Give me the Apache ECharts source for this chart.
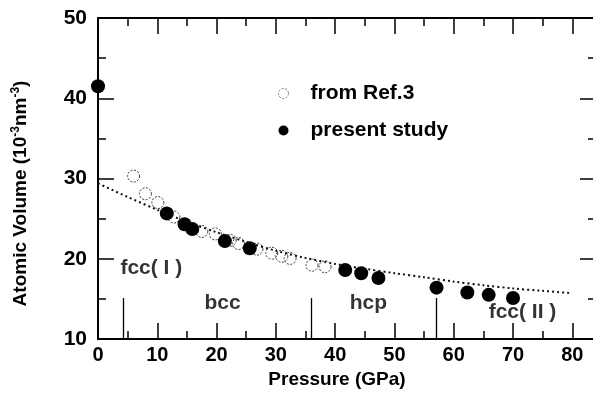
<!DOCTYPE html>
<html>
<head>
<meta charset="utf-8">
<style>html,body{margin:0;padding:0;background:#fff}#c{width:593px;height:400px}</style>
<script src="https://cdn.jsdelivr.net/npm/echarts@6/dist/echarts.min.js"></script>
</head>
<body>
<div id="c"></div>
<script>
// ---- data ----
const refP = [6.0, 8.0, 10.1, 12.8, 17.5, 19.8, 22.3, 23.7, 26.8, 29.3, 31.0, 32.4, 36.1, 38.3];
const refV = [30.3, 28.1, 27.0, 25.2, 23.4, 23.1, 22.3, 21.9, 21.2, 20.7, 20.3, 20.05, 19.2, 19.0];
const presentP = [0, 11.6, 14.6, 15.9, 21.4, 25.6, 41.7, 44.4, 47.3, 57.1, 62.3, 65.9, 70.0];
const presentV = [41.5, 25.65, 24.3, 23.7, 22.2, 21.3, 18.6, 18.2, 17.6, 16.4, 15.8, 15.5, 15.1];
const curveP = [0, 5, 10, 15, 20, 25, 30, 35, 40, 45, 50, 55, 60, 65, 70, 75, 80];
const curveV = [29.4, 27.7, 26.1, 24.6, 23.3, 22.1, 21.0, 20.1, 19.35, 18.75, 18.2, 17.7, 17.15, 16.7, 16.3, 16.0, 15.7];
const boundaryP = [4.3, 35.9, 57.1];
const boundaryTop = [15.1, 15.1, 15.1];
const phaseNames = ['fcc( I )', 'bcc', 'hcp', 'fcc( II )'];
const phaseP = [9.0, 21.0, 45.6, 71.6];
const phaseV = [18.8, 14.5, 14.4, 13.4];
const xTickLabels = [0, 10, 20, 30, 40, 50, 60, 70, 80];

const FONT = "'Liberation Sans', Arial, sans-serif";

function xAx(pos, major, withLabels) {
  const ax = {
    type: 'value', min: 0, max: 84, interval: major ? 10 : 5, position: pos,
    axisLine: {show: major, onZero: false, lineStyle: {color: '#000', width: 2}},
    axisTick: {show: true, inside: true, length: major ? 16 : 8, lineStyle: {color: '#000', width: 1.5}},
    axisLabel: {show: false},
    splitLine: {show: false}
  };
  if (withLabels) {
    ax.axisLabel = {show: true, margin: 6, color: '#000', fontSize: 20, fontWeight: 'bold', fontFamily: FONT,
      formatter: v => (xTickLabels.indexOf(v) >= 0 ? String(v) : '')};
    ax.name = 'Pressure (GPa)';
    ax.nameLocation = 'middle';
    ax.nameGap = 29;
    ax.nameTextStyle = {color: '#000', fontSize: 19, fontWeight: 'bold', fontFamily: FONT, padding: [0, 20, 0, 0]};
  }
  return ax;
}
function yAx(pos, withLabels) {
  const ax = {
    type: 'value', min: 10, max: 50, interval: 10, position: pos,
    axisLine: {show: true, onZero: false, lineStyle: {color: '#000', width: 2}},
    axisTick: {show: true, inside: true, length: 16, lineStyle: {color: '#000', width: 1.5}},
    minorTick: {show: true, splitNumber: 2, length: 8, lineStyle: {color: '#000', width: 1.5}},
    axisLabel: {show: false},
    splitLine: {show: false}, minorSplitLine: {show: false}
  };
  if (withLabels) {
    ax.axisLabel = {show: true, margin: 11, color: '#000', fontSize: 21, fontWeight: 'bold', fontFamily: FONT};
    ax.name = '{t|Atomic Volume (10}{s|-3}{t|nm}{s|-3}{t|)}';
    ax.nameLocation = 'middle';
    ax.nameGap = 66;
    ax.nameTextStyle = {
      color: '#000', fontFamily: FONT, padding: [0, 30, 0, 0],
      rich: {
        t: {fontSize: 19, fontWeight: 'bold', fontFamily: FONT, color: '#000', lineHeight: 22},
        s: {fontSize: 12, fontWeight: 'bold', fontFamily: FONT, color: '#000', lineHeight: 12, verticalAlign: 'top'}
      }
    };
  }
  return ax;
}

function buildOption() {
  return {
    animation: false,
    grid: {left: 98, top: 18, width: 498, height: 321, containLabel: false, outerBoundsMode: 'none'},
    xAxis: [xAx('bottom', true, true), xAx('bottom', false, false), xAx('top', true, false), xAx('top', false, false)],
    yAxis: [yAx('left', true), yAx('right', false)],
    legend: {
      orient: 'vertical', left: 273, top: 78, itemWidth: 44, itemHeight: 10, itemGap: 16,
      textStyle: {fontSize: 21, fontWeight: 'bold', color: '#000', fontFamily: FONT},
      data: [
        {name: 'from Ref.3', icon: 'circle', itemStyle: {color: 'rgba(0,0,0,0)', borderColor: '#777', borderWidth: 1, borderType: [2, 1.5], opacity: 1}},
        {name: 'present study', icon: 'circle', itemStyle: {color: '#000', borderWidth: 0, opacity: 1}}
      ]
    },
    series: [
      {
        name: 'fit', type: 'line', smooth: 0.3, symbol: 'none', silent: true,
        data: curveP.map((p, i) => [p, curveV[i]]),
        lineStyle: {color: '#111', width: 2, type: [2, 3]},
        markLine: {
          silent: true, animation: false, symbol: ['none', 'none'], label: {show: false},
          lineStyle: {color: '#000', width: 1.3, type: 'solid'},
          data: boundaryP.map((p, i) => [{coord: [p, 10]}, {coord: [p, boundaryTop[i]]}])
        }
      },
      {
        name: 'from Ref.3', type: 'scatter', symbol: 'circle', symbolSize: 12,
        data: refP.map((p, i) => [p, refV[i]]),
        itemStyle: {color: 'rgba(0,0,0,0)', borderColor: '#333', borderWidth: 1, borderType: [2, 1.5], opacity: 1}
      },
      {
        name: 'present study', type: 'scatter', symbol: 'circle', symbolSize: 14, clip: true,
        data: presentP.map((p, i) => [p, presentV[i]]),
        itemStyle: {color: '#000', opacity: 1}
      },
      {
        name: 'phases', type: 'scatter', symbolSize: 0.1, silent: true,
        itemStyle: {color: 'rgba(0,0,0,0)'},
        data: phaseNames.map((n, i) => ({name: n, value: [phaseP[i], phaseV[i]]})),
        label: {show: true, position: 'inside', formatter: '{b}', color: '#000', fontSize: 21, fontWeight: 'bold', fontFamily: FONT}
      }
    ]
  };
}

const dom = document.getElementById('c');
let chart = null;
let usingSvg = false;

// true when the bottom axis line is actually painted on the canvas
function axisPainted() {
  const cv = dom.querySelector('canvas');
  if (!cv) return true;
  try {
    const data = cv.getContext('2d').getImageData(250, 334, 20, 10).data;
    for (let i = 0; i < data.length; i += 4) {
      if (data[i + 3] > 200 && data[i] < 90) return true;
    }
    return false;
  } catch (e) { return true; }
}
function draw(renderer) {
  if (chart) chart.dispose();
  chart = echarts.init(dom, null, {renderer: renderer});
  chart.setOption(buildOption());
  usingSvg = renderer === 'svg';
}

draw('canvas');
try { chart.getZr().refreshImmediately(); } catch (e) {}
if (!axisPainted()) draw('svg');
setTimeout(function () { if (!usingSvg && !axisPainted()) draw('svg'); }, 300);
</script>
</body>
</html>
